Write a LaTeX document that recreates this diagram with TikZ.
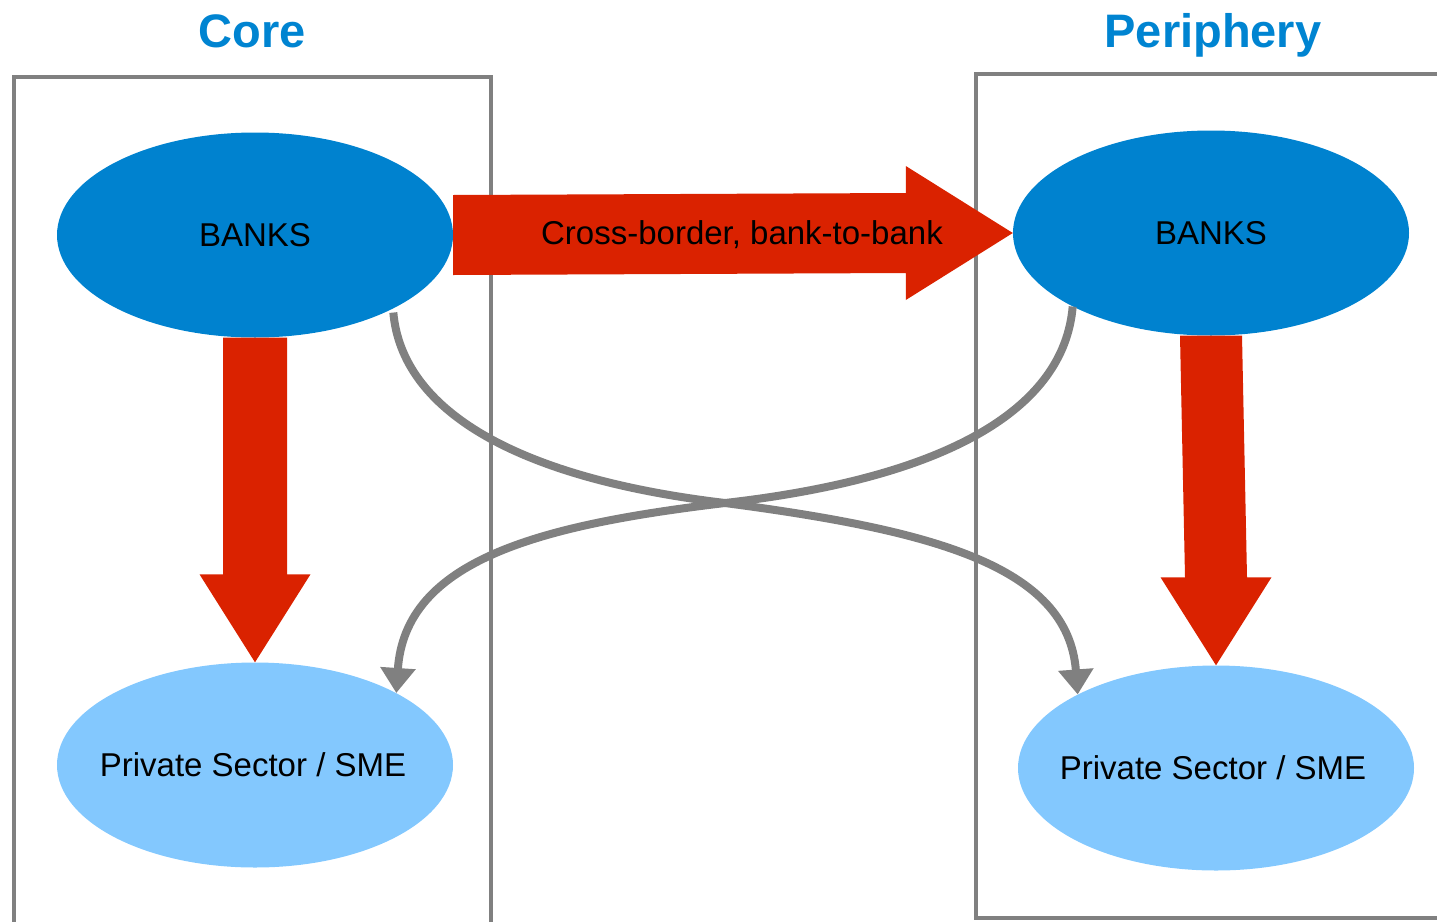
\documentclass[tikz,border=0pt]{standalone}
\usepackage{fontspec}
\setmainfont{Liberation Sans}
\usetikzlibrary{shapes.geometric,arrows.meta}
\definecolor{bankblue}{RGB}{0,130,207}
\definecolor{smeblue}{RGB}{131,200,254}
\definecolor{flowred}{RGB}{218,34,0}
\definecolor{titleblue}{RGB}{0,132,209}
\definecolor{boxgray}{RGB}{128,128,128}
\begin{document}
\begin{tikzpicture}[x=1pt,y=-1pt,
  region/.style={draw=boxgray,line width=4.5pt},
  ell/.style={ellipse,minimum width=396pt,minimum height=205pt,inner sep=0pt},
  bank/.style={ell,fill=bankblue},
  sme/.style={ell,fill=smeblue},
  lbl/.style={font=\fontsize{33}{40}\selectfont,inner sep=0pt},
  title/.style={font=\fontsize{47}{56}\selectfont\bfseries,text=titleblue,inner sep=0pt,anchor=base},
  flow/.style={fill=flowred},
  loan/.style={draw=boxgray,line width=8pt,-{Triangle[width=34pt,length=25pt]}},
]
\useasboundingbox (0,0) rectangle (1437,921);
\clip (0,0) rectangle (1437,921);

% region boxes
\draw[region] (14,940) -- (14,77) -- (491,77) -- (491,940);
\draw[region] (1450,74) -- (976,74) -- (976,918) -- (1450,918);

% titles
\node[title] (tC) at (252,47) {Core};
\node[title] (tP) at (1213,47) {Periphery};

% ellipses
\node[bank] (bC) at (255,235) {};
\node[bank] (bP) at (1211,233) {};
\node[sme] (sC) at (255,765) {};
\node[sme] (sP) at (1216,768) {};

% red flows
\fill[flow] ([xshift=-32pt]bC.south) -- ([xshift=-32pt,yshift=88pt]sC.north)
  -- ([xshift=-55.5pt,yshift=88pt]sC.north) -- (sC.north)
  -- ([xshift=55.5pt,yshift=88pt]sC.north) -- ([xshift=32pt,yshift=88pt]sC.north)
  -- ([xshift=32pt]bC.south) -- cycle;
\fill[flow] ([xshift=-31pt]bP.south) -- ([xshift=-31pt,yshift=88pt]sP.north)
  -- ([xshift=-55.5pt,yshift=88pt]sP.north) -- (sP.north)
  -- ([xshift=55.5pt,yshift=88pt]sP.north) -- ([xshift=31pt,yshift=88pt]sP.north)
  -- ([xshift=31pt]bP.south) -- cycle;
\fill[flow] ([yshift=40pt]bC.east) -- ([xshift=-107pt,yshift=40pt]bP.west)
  -- ([xshift=-107pt,yshift=67pt]bP.west) -- (bP.west)
  -- ([xshift=-107pt,yshift=-67pt]bP.west) -- ([xshift=-107pt,yshift=-40pt]bP.west)
  -- ([yshift=-40pt]bC.east) -- cycle;
\node[lbl] (xb) at (742,235) {Cross-border, bank-to-bank};

% labels
\node[lbl] (bCt) at (bC) {BANKS};
\node[lbl] (bPt) at (bP) {BANKS};
\node[lbl] (sCt) at (253,765) {Private Sector / SME};
\node[lbl] (sPt) at (1213,768) {Private Sector / SME};

% grey crossing flows
\coordinate (cross) at (725,503);
\draw[loan] ([yshift=-4pt]bC.-28) .. controls (402,410) and (515,478) .. (cross)
  .. controls (930,530) and (1068,565) .. (sP.152);
\draw[loan] (bP.208) .. controls (1064,410) and (945,478) .. (cross)
  .. controls (540,525) and (405,560) .. (sC.27);
\end{tikzpicture}
\end{document}
